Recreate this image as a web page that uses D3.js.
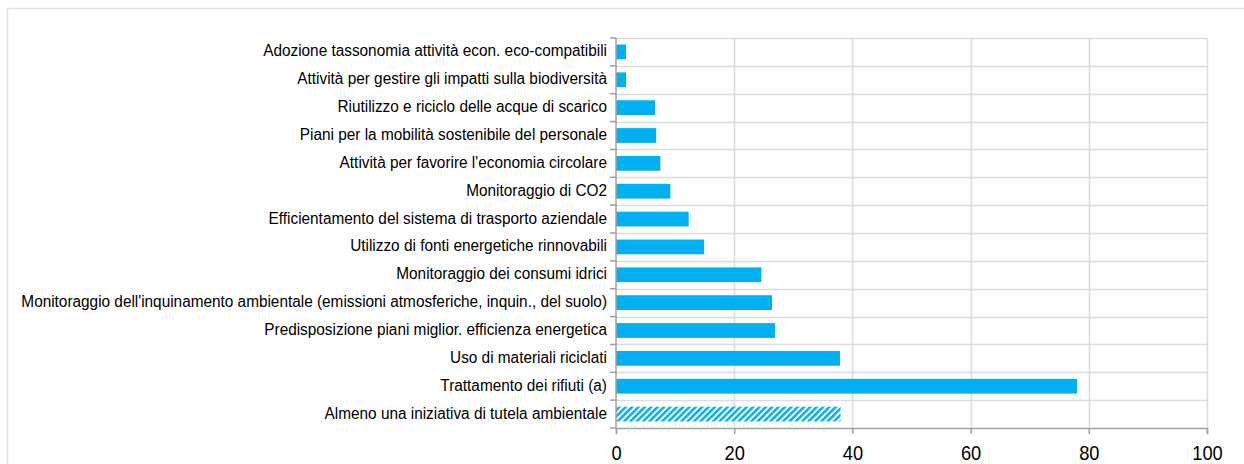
<!DOCTYPE html>
<html>
<head>
<meta charset="utf-8">
<script src="https://cdn.jsdelivr.net/npm/d3@7"></script>
<style>
  body { margin: 0; background: #fff; }
  svg { display: block; font-family: 'Liberation Sans', Arial, sans-serif; }
</style>
</head>
<body>
<svg id="svg" width="1244" height="464"></svg>
<script>
// categories from top to bottom
const categories = [
  'Adozione tassonomia attività econ. eco-compatibili',
  'Attività per gestire gli impatti sulla biodiversità',
  'Riutilizzo e riciclo delle acque di scarico',
  'Piani per la mobilità sostenibile del personale',
  "Attività per favorire l'economia circolare",
  'Monitoraggio di CO2',
  'Efficientamento del sistema di trasporto aziendale',
  'Utilizzo di fonti energetiche rinnovabili',
  'Monitoraggio dei consumi idrici',
  "Monitoraggio dell'inquinamento ambientale (emissioni atmosferiche, inquin., del suolo)",
  'Predisposizione piani miglior. efficienza energetica',
  'Uso di materiali riciclati',
  'Trattamento dei rifiuti (a)',
  'Almeno una iniziativa di tutela ambientale'
];
const values = [1.7, 1.7, 6.6, 6.8, 7.5, 9.2, 12.3, 14.9, 24.6, 26.4, 26.9, 37.9, 78.0, 38.0];
const hatched = [false, false, false, false, false, false, false, false, false, false, false, false, false, true];
const xTicks = [0, 20, 40, 60, 80, 100];

const config = {
  left: 616, right: 1207, top: 38, bottom: 428,
  barColour: '#00b0f0', gridColour: '#dcdcdc', axisColour: '#a0a0a0'
};

const svg = d3.select('#svg');

// outer frame
svg.append('rect')
  .attr('x', 7.5).attr('y', 8.5)
  .attr('width', 1260).attr('height', 480)
  .attr('fill', 'none')
  .attr('stroke', '#e3e3e3')
  .attr('stroke-width', 1.5);

const defs = svg.append('defs');
const pat = defs.append('pattern')
  .attr('id', 'hatch')
  .attr('patternUnits', 'userSpaceOnUse')
  .attr('width', 4.5).attr('height', 4.5)
  .attr('patternTransform', 'rotate(45)');
pat.append('rect').attr('width', 4.5).attr('height', 4.5).attr('fill', '#fff');
pat.append('rect').attr('width', 2.5).attr('height', 4.5).attr('fill', config.barColour);

const xScale = d3.scaleLinear()
  .domain([0, 100])
  .range([config.left, config.right]);

const yScale = d3.scaleBand()
  .domain(categories)
  .range([config.top, config.bottom])
  .paddingInner(0.47)
  .paddingOuter(0.235);

// band boundaries for horizontal gridlines
const step = yScale.step();
const bounds = d3.range(categories.length + 1).map(i => config.top + i * step);

const grid = svg.append('g').attr('class', 'grid');
grid.selectAll('.hgrid')
  .data(bounds.slice(0, -1))
  .join('line')
  .attr('class', 'hgrid')
  .attr('x1', config.left).attr('x2', config.right)
  .attr('y1', d => Math.round(d) + 0.5).attr('y2', d => Math.round(d) + 0.5)
  .attr('stroke', config.gridColour)
  .attr('stroke-width', 1.5);

grid.selectAll('.vgrid')
  .data(xTicks.slice(1))
  .join('line')
  .attr('class', 'vgrid')
  .attr('x1', d => Math.round(xScale(d)) + 0.5).attr('x2', d => Math.round(xScale(d)) + 0.5)
  .attr('y1', config.top).attr('y2', config.bottom)
  .attr('stroke', config.gridColour)
  .attr('stroke-width', 1.5);

// bars
svg.selectAll('.bar')
  .data(categories)
  .join('rect')
  .attr('class', 'bar')
  .attr('x', xScale(0))
  .attr('y', d => yScale(d))
  .attr('height', yScale.bandwidth())
  .attr('width', (d, i) => xScale(values[i]) - xScale(0))
  .attr('fill', (d, i) => hatched[i] ? 'url(#hatch)' : config.barColour);

// x axis
const xAxis = d3.axisBottom(xScale)
  .tickValues(xTicks)
  .tickSize(6)
  .tickPadding(11);

const xAxisG = svg.append('g')
  .attr('transform', `translate(0, ${config.bottom})`)
  .call(xAxis);
xAxisG.select('path.domain').attr('stroke', config.axisColour).attr('stroke-width', 1.5);
xAxisG.selectAll('.tick line').attr('stroke', config.axisColour).attr('stroke-width', 1.5);
xAxisG.selectAll('.tick text')
  .attr('fill', '#000')
  .attr('transform', 'scale(0.87,1)')
  .style('font-size', '21px')
  .style('font-family', "'Liberation Sans', Arial, sans-serif");

// y axis: line with ticks at band boundaries
const yAxisG = svg.append('g').attr('class', 'y-axis');
yAxisG.append('line')
  .attr('x1', config.left).attr('x2', config.left)
  .attr('y1', config.top).attr('y2', config.bottom)
  .attr('stroke', config.axisColour).attr('stroke-width', 1.5);
yAxisG.selectAll('.ytick')
  .data(bounds)
  .join('line')
  .attr('class', 'ytick')
  .attr('x1', config.left - 6).attr('x2', config.left)
  .attr('y1', d => d).attr('y2', d => d)
  .attr('stroke', config.axisColour).attr('stroke-width', 1.5);

yAxisG.selectAll('.ylabel')
  .data(categories)
  .join('text')
  .attr('class', 'ylabel')
  .attr('transform', d => `translate(${config.left - 9}, ${yScale(d) + yScale.bandwidth() / 2}) scale(0.96,1)`)
  .attr('dy', '0.28em')
  .attr('text-anchor', 'end')
  .style('font-size', '16px')
  .text(d => d);
</script>
</body>
</html>
